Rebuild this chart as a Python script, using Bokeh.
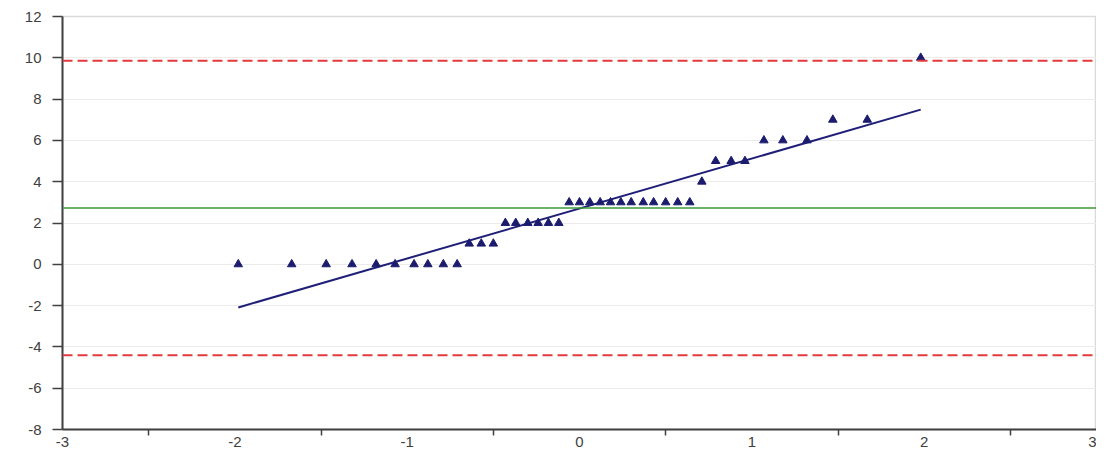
from bokeh.plotting import figure
from bokeh.models import Range1d, FixedTicker, Span, CustomJSTickFormatter
from bokeh.embed import file_html
from bokeh.resources import INLINE

quantile_x = [-1.98, -1.67, -1.47, -1.32, -1.18, -1.07, -0.96, -0.88, -0.79, -0.71,
              -0.64, -0.57, -0.50,
              -0.43, -0.37, -0.30, -0.24, -0.18, -0.12,
              -0.06, 0.00, 0.06, 0.12, 0.18, 0.24, 0.30, 0.37, 0.43, 0.50, 0.57, 0.64,
              0.71,
              0.79, 0.88, 0.96,
              1.07, 1.18, 1.32,
              1.47, 1.67,
              1.98]
observed_y = [0, 0, 0, 0, 0, 0, 0, 0, 0, 0,
              1, 1, 1,
              2, 2, 2, 2, 2, 2,
              3, 3, 3, 3, 3, 3, 3, 3, 3, 3, 3, 3,
              4,
              5, 5, 5,
              6, 6, 6,
              7, 7,
              10]

# Fitted reference line endpoints
fit_x = [-1.98, 1.98]
fit_y = [-2.09, 7.49]

# Horizontal reference levels
mean_level = 2.73
upper_limit = 9.86
lower_limit = -4.40

x_labels = [-3, -2, -1, 0, 1, 2, 3]
x_minor = [-2.5, -1.5, -0.5, 0.5, 1.5, 2.5]
y_ticks = [-8, -6, -4, -2, 0, 2, 4, 6, 8, 10, 12]

p = figure(width=1096, height=449, output_backend="svg", toolbar_location=None,
           x_range=Range1d(-3, 3), y_range=Range1d(-8, 12),
           min_border_left=62, min_border_right=0, min_border_top=16, min_border_bottom=18)

p.background_fill_color = "white"
p.border_fill_color = "white"
p.outline_line_color = "#d9d9d9"
p.outline_line_width = 1.5

p.xgrid.grid_line_color = None
p.ygrid.grid_line_color = "#ebebeb"
p.ygrid.grid_line_width = 1

# x axis: labels at integers, tick marks at half-integers
p.xaxis.ticker = FixedTicker(ticks=x_labels, minor_ticks=x_minor)
p.xaxis.formatter = CustomJSTickFormatter(code="return String(tick);")
p.xaxis.major_tick_line_color = None
p.xaxis.major_tick_out = 0
p.xaxis.major_tick_in = 0
p.xaxis.minor_tick_line_color = "#404040"
p.xaxis.minor_tick_line_width = 1.5
p.xaxis.minor_tick_out = 6
p.xaxis.minor_tick_in = 0
p.xaxis.major_label_standoff = 1

p.yaxis.ticker = FixedTicker(ticks=y_ticks)
p.yaxis.formatter = CustomJSTickFormatter(code="return String(tick);")
p.yaxis.major_tick_line_color = "#404040"
p.yaxis.major_tick_line_width = 1.5
p.yaxis.major_tick_out = 10
p.yaxis.major_tick_in = 0
p.yaxis.minor_tick_line_color = None
p.yaxis.major_label_standoff = 11

for ax in (p.xaxis, p.yaxis):
    ax.axis_line_color = "#404040"
    ax.axis_line_width = 2
    ax.major_label_text_font = "Liberation Sans"
    ax.major_label_text_font_size = "15px"
    ax.major_label_text_color = "#404040"

p.add_layout(Span(location=upper_limit, dimension="width", line_color="#e23a3a",
                  line_width=2, line_dash="10 5"))
p.add_layout(Span(location=lower_limit, dimension="width", line_color="#e23a3a",
                  line_width=2, line_dash="10 5"))
p.add_layout(Span(location=mean_level, dimension="width", line_color="#3a9a3a",
                  line_width=1.6))

p.line(fit_x, fit_y, line_color="#1f1f78", line_width=2)
p.scatter(quantile_x, observed_y, marker="triangle", size=8.5,
          fill_color="#1c1c6e", line_color="#1c1c6e")

open("out.html", "w").write(file_html(p, INLINE))
